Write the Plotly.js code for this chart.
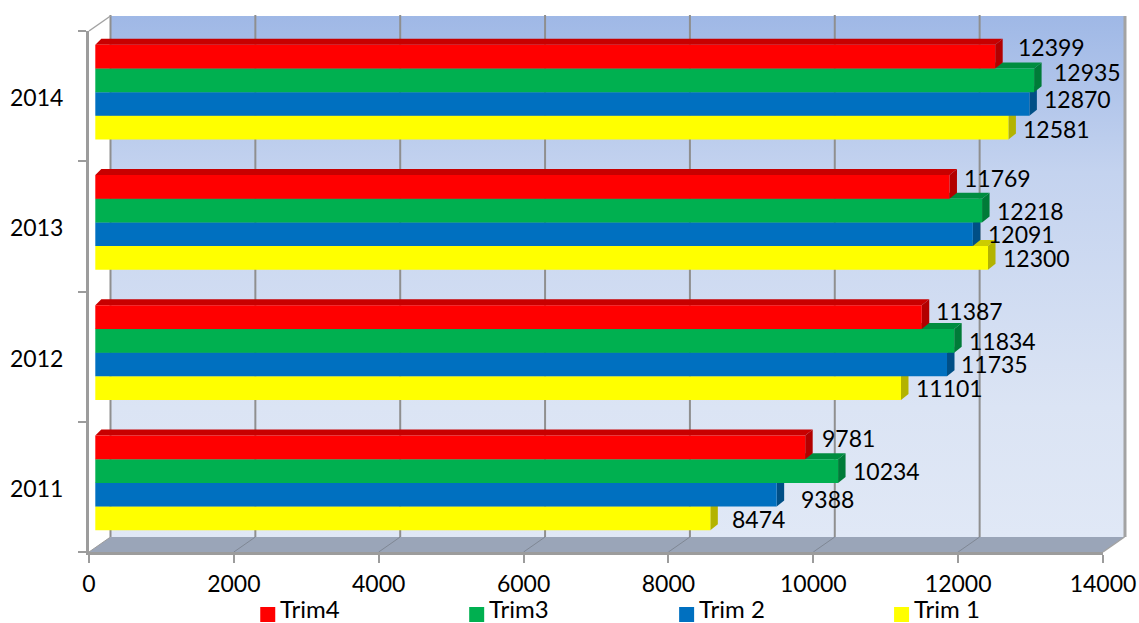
<!DOCTYPE html>
<html>
<head>
<meta charset="utf-8">
<script src="https://cdn.plot.ly/plotly-3.0.1.min.js"></script>
<style>html,body{margin:0;padding:0;background:#fff}</style>
</head>
<body>
<div id="chart" style="width:1139px;height:623px"></div>
<script>
// ---- data ----
const years = [2011, 2012, 2013, 2014];
const trim1 = [8474, 11101, 12300, 12581];
const trim2 = [9388, 11735, 12091, 12870];
const trim3 = [10234, 11834, 12218, 12935];
const trim4 = [9781, 11387, 11769, 12399];
const seriesNames = ['Trim 1', 'Trim 2', 'Trim3', 'Trim4'];
const xTicks = [0, 2000, 4000, 6000, 8000, 10000, 12000, 14000];

// ---- styling ----
const seriesValues = [trim1, trim2, trim3, trim4];
const frontColors = ['#ffff00', '#0070c0', '#00b050', '#ff0000'];
const topColors = ['#cccc00', '#005a9a', '#008d40', '#c80000'];
const sideColors = ['#b3b300', '#004f86', '#007b38', '#b30000'];
// hand-placed data labels in the reference: offsets in px, [series][year]
const labelDx = [[20, 13, 13, 13], [22, 12, 13, 13], [13, 13, 13, 18], [15, 12, 13, 21]];
const labelDy = [[1, 0, 0, 1], [4, 0, 0, -5], [0, 0, 0, -8], [-9, -6, -9, -10]];
// legend placement, px of the page, per series
const legendSwatchX = [894, 679, 469, 260];

const W = 1139, H = 623, ml = 88.7, mr = 36, mt = 31, mb = 71;
const plotW = W - ml - mr, plotH = H - mt - mb;
const xMax = 14000;
const pxPerUnit = plotW / xMax, pxPerYear = plotH / years.length;
const barPxPerUnit = 0.0726;
const wallDX = 21.5, wallDY = 15;
const barShiftX = 6.3, barShiftY = 4;
const barCornerDX = 6, barEndDX = 7.5, barDY = 6;
const bargap = 0.273;
const fontFam = 'Lato, Carlito, Calibri, sans-serif';
const fontSize = 23, legendFontSize = 24;
const gridCol = '#8f8f8f', frameCol = '#9c9c9c', floorCol = '#9aa5b8';

const px = x => (x - ml) / plotW;
const py = y => 1 - (y - mt) / plotH;
const vx = v => ml + v * pxPerUnit;
const paperPath = pts => 'M' + pts.map(p => px(p[0]) + ',' + py(p[1])).join('L') + 'Z';
const floorY = H - mb, wallBot = floorY - wallDY, wallTop = mt - wallDY;

const shapes = [];
// floor
shapes.push({type:'path', xref:'paper', yref:'paper', layer:'below', line:{width:0}, fillcolor:floorCol,
  path: paperPath([[vx(0), floorY], [vx(xMax), floorY], [vx(xMax)+wallDX, wallBot], [vx(0)+wallDX, wallBot]])});
// gridlines on wall + floor
xTicks.forEach(t => {
  if (t === xMax) return;
  const X = vx(t);
  shapes.push({type:'line', xref:'paper', yref:'paper', layer:'below', line:{color:gridCol, width:2},
    x0:px(X+wallDX), x1:px(X+wallDX), y0:py(wallTop-1), y1:py(wallBot)});
  shapes.push({type:'line', xref:'paper', yref:'paper', layer:'below', line:{color:t===0?frameCol:'#7f8794', width:1},
    x0:px(X+wallDX), x1:px(X), y0:py(wallBot), y1:py(floorY)});
});
// right wall edge
shapes.push({type:'line', xref:'paper', yref:'paper', layer:'below', line:{color:'#a3a3a3', width:3},
  x0:px(vx(xMax)+wallDX+0.5), x1:px(vx(xMax)+wallDX+0.5), y0:py(wallTop), y1:py(wallBot)});
shapes.push({type:'line', xref:'paper', yref:'paper', layer:'below', line:{color:'#a3a3a3', width:1.5},
  x0:px(vx(xMax)+wallDX), x1:px(vx(xMax)), y0:py(wallBot), y1:py(floorY)});
// left wall top diagonal
shapes.push({type:'line', xref:'paper', yref:'paper', layer:'below', line:{color:'#a3a3a3', width:1.5},
  x0:px(vx(0)), x1:px(vx(0)+wallDX), y0:py(mt), y1:py(wallTop)});

// bar depth faces, from the same values, in the bars' own axes
const bw = (1 - bargap) / seriesValues.length;
const cU = barCornerDX / barPxPerUnit, eU = barEndDX / barPxPerUnit, dyU = barDY / pxPerYear;
const centerOf = (s, yr) => yr + (s - (seriesValues.length - 1) / 2) * bw;
seriesValues.forEach((vals, s) => {
  vals.forEach((v, k) => {
    const yc = centerOf(s, years[k]), yt = yc + bw / 2, yb = yc - bw / 2;
    shapes.push({type:'path', xref:'x2', yref:'y2', layer:'below', line:{width:0}, fillcolor:topColors[s],
      path:`M0,${yt}L${cU},${yt+dyU}L${v+eU},${yt+dyU}L${v},${yt}Z`});
    shapes.push({type:'path', xref:'x2', yref:'y2', layer:'below', line:{width:0}, fillcolor:sideColors[s],
      path:`M${v},${yt}L${v+eU},${yt+dyU}L${v+eU},${yb+dyU}L${v},${yb}Z`});
  });
});

// data labels
const annotations = [];
seriesValues.forEach((vals, s) => {
  vals.forEach((v, k) => {
    annotations.push({xref:'x2', yref:'y2', x:v, y:centerOf(s, years[k]), text:String(v), showarrow:false,
      xanchor:'left', yanchor:'middle', xshift:labelDx[s][k], yshift:-labelDy[s][k],
      font:{family:fontFam, size:fontSize, color:'#000'}});
  });
});

// legend, drawn by hand because the built-in one cannot sit its text this close to the swatch
seriesNames.forEach((name, s) => {
  const X = legendSwatchX[s];
  shapes.push({type:'rect', xref:'paper', yref:'paper', layer:'above', line:{width:0}, fillcolor:frontColors[s],
    x0:px(X), x1:px(X+15), y0:py(607), y1:py(622)});
  annotations.push({xref:'paper', yref:'paper', x:px(X+18), y:py(608.5), text:name, showarrow:false,
    xanchor:'left', yanchor:'middle', font:{family:fontFam, size:legendFontSize, color:'#000'}});
});

// back wall gradient
const svg = `<svg xmlns="http://www.w3.org/2000/svg" width="100" height="100" preserveAspectRatio="none"><defs><linearGradient id="g" x1="0" y1="0" x2="0" y2="1"><stop offset="0" stop-color="#9fb8e6"/><stop offset="0.3" stop-color="#c4d3ef"/><stop offset="0.75" stop-color="#dbe4f4"/><stop offset="1" stop-color="#e0e8f6"/></linearGradient></defs><rect width="100" height="100" fill="url(#g)"/></svg>`;

const traces = [{
  type:'scatter', mode:'markers', x:years.map(() => 0), y:years.map(String), xaxis:'x', yaxis:'y',
  marker:{opacity:0, size:1}, showlegend:false, hoverinfo:'skip'
}];
seriesValues.forEach((vals, s) => {
  traces.push({type:'bar', orientation:'h', name:seriesNames[s], x:vals, y:years, xaxis:'x2', yaxis:'y2',
    marker:{color:frontColors[s], line:{width:0}}, hoverinfo:'x+name', showlegend:false});
});

const layout = {
  width:W, height:H, autosize:false, showlegend:false,
  margin:{l:ml, r:mr, t:mt, b:mb, pad:0, autoexpand:false},
  paper_bgcolor:'#fff', plot_bgcolor:'rgba(0,0,0,0)',
  barmode:'group', bargap:bargap, bargroupgap:0,
  font:{family:fontFam, size:fontSize, color:'#000'},
  xaxis:{range:[0, xMax], tickmode:'array', tickvals:xTicks, ticktext:xTicks.map(String), ticks:'outside', ticklen:8, tickwidth:1.5, tickcolor:frameCol,
    showline:true, linecolor:frameCol, linewidth:3, showgrid:false, zeroline:false, ticklabelstandoff:1,
    tickfont:{family:fontFam, size:fontSize, color:'#000'}},
  yaxis:{type:'category', categoryorder:'array', categoryarray:years.map(String), range:[-0.5, 3.5],
    tickson:'boundaries', ticks:'outside', ticklen:8, tickwidth:1.5, tickcolor:frameCol,
    showline:true, linecolor:frameCol, linewidth:3, showgrid:false, zeroline:false, ticklabelstandoff:18, ticklabelshift:2,
    tickfont:{family:fontFam, size:fontSize, color:'#000'}},
  xaxis2:{overlaying:'x', anchor:'y', visible:false, range:[-barShiftX/barPxPerUnit, (plotW-barShiftX)/barPxPerUnit], showgrid:false, zeroline:false},
  yaxis2:{overlaying:'y', anchor:'x', visible:false, range:[years[0]-0.5-barShiftY/pxPerYear, years[3]+0.5-barShiftY/pxPerYear], showgrid:false, zeroline:false},
  shapes:shapes, annotations:annotations,
  images:[{source:'data:image/svg+xml;charset=utf-8,'+encodeURIComponent(svg), xref:'paper', yref:'paper',
    x:px(vx(0)+wallDX), y:py(wallTop), sizex:1, sizey:(wallBot-wallTop)/plotH, xanchor:'left', yanchor:'top',
    sizing:'stretch', layer:'below'}]
};
Plotly.newPlot('chart', traces, layout, {displayModeBar:false, responsive:false});
</script>
</body>
</html>
